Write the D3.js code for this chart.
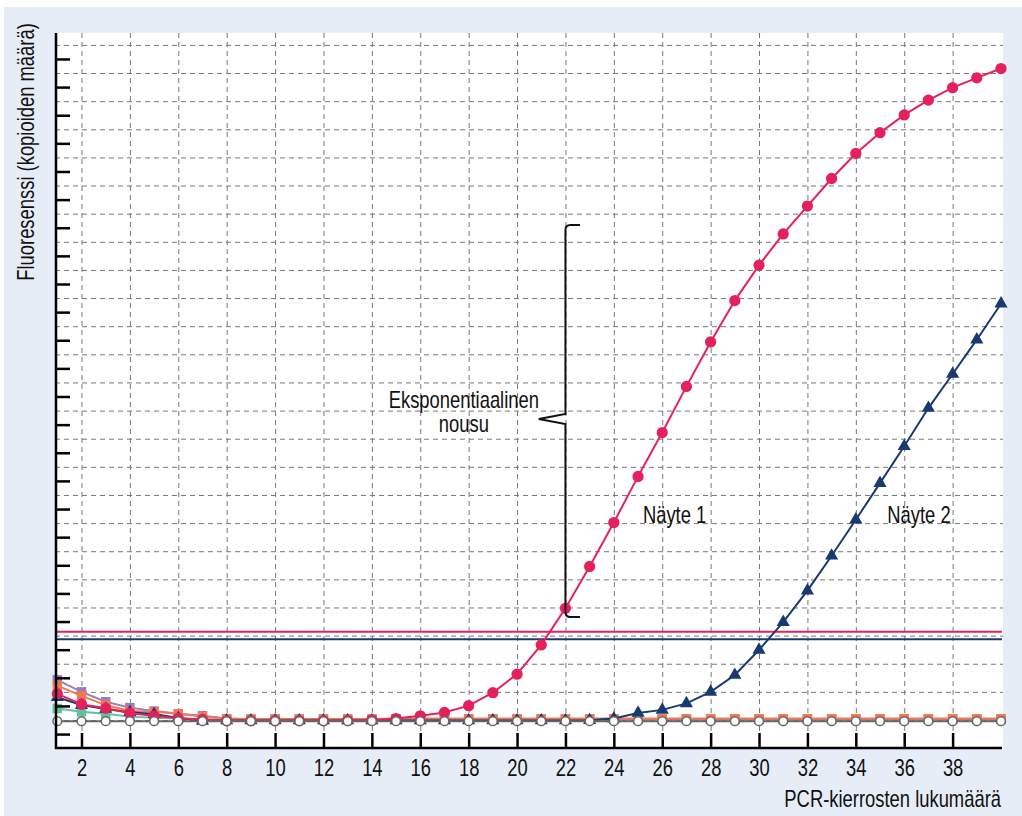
<!DOCTYPE html>
<html>
<head>
<meta charset="utf-8">
<script src="https://cdn.jsdelivr.net/npm/d3@7"></script>
<style>
  html, body { margin: 0; padding: 0; background: #fff; }
  svg { display: block; }
  text { font-family: "Liberation Sans", Arial, sans-serif; font-size: 23px; fill: #111; }
</style>
</head>
<body>
<svg></svg>
<script>
// PCR-syklit ja fluoresenssiarvot (luettu kuvasta, ruudukon yksiköissä)
const cycles = d3.range(1, 41)
const sample1 = [0.93, 0.56, 0.42, 0.24, 0.15, 0.06, 0.02, -0.03, -0.03, -0.03,
  -0.03, -0.03, -0.02, 0.0, 0.05, 0.15, 0.27, 0.51, 0.97, 1.63,
  2.67, 3.97, 5.46, 7.02, 8.66, 10.22, 11.86, 13.44, 14.91, 16.17,
  17.28, 18.27, 19.25, 20.14, 20.88, 21.51, 22.04, 22.48, 22.83, 23.16]
const sample2 = [0.81, 0.53, 0.39, 0.28, 0.21, 0.07, -0.03, -0.02, -0.02, -0.02,
  -0.02, -0.02, -0.02, -0.02, -0.02, -0.02, -0.02, -0.02, -0.02, -0.02,
  -0.02, -0.02, -0.01, 0.05, 0.25, 0.36, 0.59, 1.0, 1.6, 2.49,
  3.48, 4.6, 5.84, 7.12, 8.42, 9.73, 11.09, 12.3, 13.52, 14.8]
const purple = [1.43, 1.0, 0.65, 0.44, 0.32, 0.22, 0.15, 0.05, 0.03, 0.03,
  0.03, 0.03, 0.03, 0.03, 0.03, 0.03, 0.03, 0.03, 0.03, 0.03,
  0.03, 0.03, 0.03, 0.03, 0.03, 0.03, 0.03, 0.03, 0.03, 0.03,
  0.03, 0.03, 0.03, 0.03, 0.03, 0.03, 0.03, 0.03, 0.03, 0.03]
const orange = [1.22, 0.86, 0.53, 0.32, 0.29, 0.22, 0.12, 0.05, 0.04, 0.04,
  0.04, 0.04, 0.04, 0.04, 0.05, 0.05, 0.05, 0.05, 0.05, 0.05,
  0.05, 0.05, 0.05, 0.05, 0.05, 0.05, 0.05, 0.05, 0.05, 0.05,
  0.05, 0.05, 0.05, 0.05, 0.05, 0.05, 0.05, 0.05, 0.05, 0.05]
const green = [0.41, 0.29, 0.22, 0.12, 0.08, 0.05, 0.03, 0.02, 0.02, 0.02,
  0.02, 0.02, 0.02, 0.02, 0.02, 0.02, 0.02, 0.02, 0.02, 0.02,
  0.02, 0.02, 0.02, 0.02, 0.02, 0.02, 0.02, 0.02, 0.02, 0.02,
  0.02, 0.02, 0.02, 0.02, 0.02, 0.02, 0.02, 0.02, 0.02, 0.02]
const blank = [-0.04, -0.04, -0.04, -0.04, -0.04, -0.04, -0.04, -0.04, -0.04, -0.04,
  -0.04, -0.04, -0.04, -0.04, -0.04, -0.04, -0.04, -0.04, -0.04, -0.04,
  -0.04, -0.04, -0.04, -0.04, -0.04, -0.04, -0.04, -0.04, -0.04, -0.04,
  -0.04, -0.04, -0.04, -0.04, -0.04, -0.04, -0.04, -0.04, -0.04, -0.04]
const thresholds = [3.14, 2.87]   // näyte 1, näyte 2
const xTicks = d3.range(2, 40, 2)
const yTicks = d3.range(-0.5, 24, 1)
const yGrid = d3.range(0, 25, 1)

const width = 1022
const height = 816
const plot = { left: 55, right: 1003, top: 33, bottom: 749 }
const narrow = 0.8   // kapea kirjasin: vaakasuora puristus

const pink = '#e5215d'
const navy = '#183a70'

const svg = d3.select('svg')
  .attr('width', width)
  .attr('height', height)

svg.append('rect')
  .attr('x', 4).attr('y', 7)
  .attr('width', width - 4).attr('height', height - 7)
  .attr('fill', '#e6edf7')

svg.append('rect')
  .attr('x', plot.left).attr('y', plot.top)
  .attr('width', plot.right - plot.left).attr('height', plot.bottom - plot.top)
  .attr('fill', '#fff')

const xScale = d3.scaleLinear()
  .domain([1, 40])
  .range([57.3, 1001])

const yScale = d3.scaleLinear()
  .domain([0, 24])
  .range([720, 44.9])

// teksti kapeana: ryhmä siirretään paikalleen ja puristetaan
function label(x, y, str, anchor, rotate) {
  const g = svg.append('g')
    .attr('transform', `translate(${x}, ${y})` + (rotate ? ` rotate(${rotate})` : '') + ` scale(${narrow}, 1)`)
  g.append('text')
    .attr('text-anchor', anchor || 'start')
    .text(str)
  return g
}

// ruudukko
svg.append('g')
  .attr('class', 'xgrid')
  .attr('transform', `translate(0, ${plot.bottom})`)
  .call(d3.axisBottom(xScale).tickValues(xTicks).tickSize(-(plot.bottom - plot.top)).tickFormat(''))
  .call(g => g.select('.domain').remove())
  .selectAll('line')
  .attr('stroke', '#777')
  .attr('stroke-dasharray', '5,4')

svg.append('g')
  .attr('class', 'ygrid')
  .attr('transform', `translate(${plot.left}, 0)`)
  .call(d3.axisLeft(yScale).tickValues(yGrid).tickSize(-(plot.right - plot.left)).tickFormat(''))
  .call(g => g.select('.domain').remove())
  .selectAll('line')
  .attr('stroke', '#777')
  .attr('stroke-dasharray', '5,4')

// kynnysviivat
svg.selectAll('.threshold')
  .data(thresholds)
  .enter()
  .append('line')
  .attr('class', 'threshold')
  .attr('x1', plot.left)
  .attr('x2', plot.right - 1)
  .attr('y1', d => yScale(d))
  .attr('y2', d => yScale(d))
  .attr('stroke', (d, i) => i === 0 ? pink : navy)
  .attr('stroke-width', 2)

const series = [
  { values: green, color: '#62c29c', shape: d3.symbolSquare, size: 90, fill: '#62c29c', stroke: 'none' },
  { values: purple, color: '#9a7dbf', shape: d3.symbolSquare, size: 90, fill: '#9a7dbf', stroke: 'none' },
  { values: orange, color: '#f2794f', shape: d3.symbolSquare, size: 85, fill: '#f2794f', stroke: 'none' },
  { values: sample2, color: navy, shape: d3.symbolTriangle, size: 75, fill: navy, stroke: 'none' },
  { values: sample1, color: pink, shape: d3.symbolCircle, size: 100, fill: pink, stroke: 'none' },
  { values: blank, color: '#666', shape: d3.symbolCircle, size: 60, fill: '#fff', stroke: '#666' }
]

const line = d3.line()
  .x((d, i) => xScale(cycles[i]))
  .y(d => yScale(d))

series.forEach(s => {
  const g = svg.append('g')
  g.append('path')
    .datum(s.values)
    .attr('d', line)
    .attr('fill', 'none')
    .attr('stroke', s.color)
    .attr('stroke-width', 2)
  g.selectAll('path.mark')
    .data(s.values)
    .enter()
    .append('path')
    .attr('class', 'mark')
    .attr('d', d3.symbol().type(s.shape).size(s.size))
    .attr('transform', (d, i) => `translate(${xScale(cycles[i])}, ${yScale(d)})`)
    .attr('fill', s.fill)
    .attr('stroke', s.stroke)
    .attr('stroke-width', 1.5)
})

// akselit
const xAxis = svg.append('g')
  .attr('transform', `translate(0, ${plot.bottom - 1})`)
  .call(d3.axisBottom(xScale).tickValues(xTicks).tickSize(-15).tickPadding(12).tickSizeOuter(0))
xAxis.select('.domain').attr('d', `M${plot.left},0H${plot.right - 1}`).attr('stroke-width', 2.5)
xAxis.selectAll('line').attr('stroke-width', 2.5)
xAxis.selectAll('text')
  .attr('font-family', null)
  .attr('font-size', null)
  .attr('transform', `scale(${narrow}, 1)`)

const yAxis = svg.append('g')
  .attr('transform', `translate(${plot.left + 1}, 0)`)
  .call(d3.axisLeft(yScale).tickValues(yTicks).tickSize(-14).tickFormat('').tickSizeOuter(0))
yAxis.select('.domain').attr('d', `M0,${plot.top}V${plot.bottom}`).attr('stroke-width', 2.5)
yAxis.selectAll('line').attr('stroke-width', 2.5)

label(1001, 807, 'PCR-kierrosten lukumäärä', 'end')
label(34, 152, 'Fluoresenssi (kopioiden määrä)', 'middle', -90)

// aaltosulje ja selitteet
const brace = { x: 22, top: 17.6, mid: 10.7, bottom: 3.66, tip: 20.9, hook: 22.6 }
const bx = xScale(brace.x)
const by0 = yScale(brace.top)
const by1 = yScale(brace.mid)
const by2 = yScale(brace.bottom)
svg.append('path')
  .attr('d', `M${xScale(brace.hook)},${by0} H${bx + 5} Q${bx},${by0} ${bx},${by0 + 5}
    V${by1 - 5} L${xScale(brace.tip)},${by1} L${bx},${by1 + 5}
    V${by2 - 5} Q${bx},${by2} ${bx + 5},${by2} H${xScale(brace.hook)}`)
  .attr('fill', 'none')
  .attr('stroke', '#111')
  .attr('stroke-width', 2)

label(xScale(brace.tip) - 75, by1 - 11, 'Eksponentiaalinen', 'middle')
label(xScale(brace.tip) - 75, by1 + 13, 'nousu', 'middle')

label(xScale(25.2), yScale(7.0), 'Näyte 1')
label(xScale(35.3), yScale(7.0), 'Näyte 2')
</script>
</body>
</html>
